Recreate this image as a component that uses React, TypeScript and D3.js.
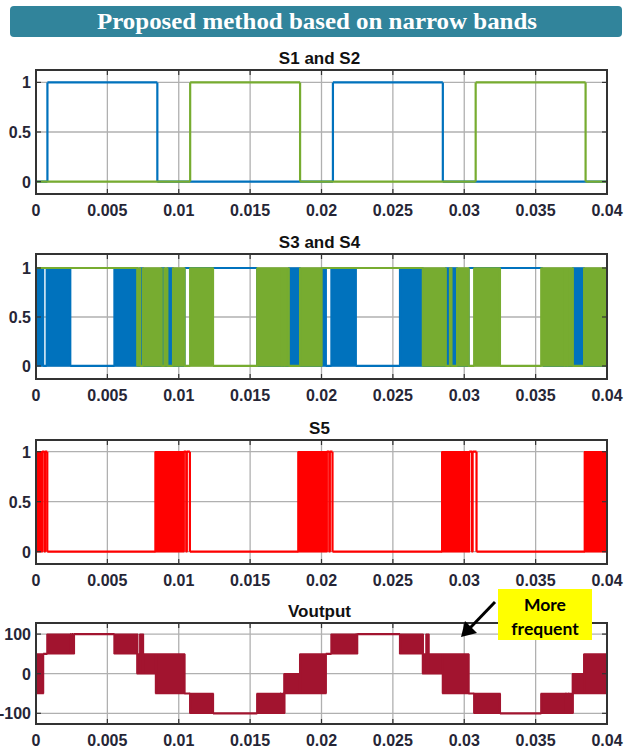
import React from "react";
import * as d3 from "d3";

const W = 634;
const H = 751;
const T_END = 0.04;

const xTicks = [0, 0.005, 0.01, 0.015, 0.02, 0.025, 0.03, 0.035, 0.04];
const xTickLabels = ["0", "0.005", "0.01", "0.015", "0.02", "0.025", "0.03", "0.035", "0.04"];
const switchTicks = [0, 0.5, 1];
const switchTickLabels = ["0", "0.5", "1"];
const voutTicks = [-100, 0, 100];
const voutTickLabels = ["-100", "0", "100"];

// each entry: [start time, low, high]; high > low = dense switching band
const s1 = [[0, 0, 0], [0.0008, 1, 1], [0.0085, 0, 0], [0.0208, 1, 1], [0.0285, 0, 0]];
const s2 = [[0, 0, 0], [0.0108, 1, 1], [0.0185, 0, 0], [0.0308, 1, 1], [0.0385, 0, 0]];

const s3 = [
  [0, 0, 1], [0.0005, 0, 0], [0.00075, 0, 1], [0.0024, 0, 0], [0.0055, 0, 1], [0.0071, 0, 0],
  [0.0073, 0, 1], [0.0075, 0, 0], [0.0088, 0, 1], [0.009, 0, 0], [0.0092, 0, 1], [0.0096, 0, 0],
  [0.0104, 1, 1], [0.0155, 0, 0], [0.0177, 0, 1], [0.0185, 0, 0],
  [0.02, 0, 1], [0.0203, 0, 0], [0.0207, 0, 1], [0.0224, 0, 0], [0.0255, 0, 1], [0.0271, 0, 0],
  [0.0287, 0, 1], [0.029, 0, 0], [0.0291, 0, 1], [0.0295, 0, 0],
  [0.0303, 1, 1], [0.0355, 0, 0], [0.0376, 0, 1], [0.0384, 0, 0],
];
const s4 = [
  [0, 1, 1], [0.0071, 0, 1], [0.0073, 0, 0], [0.0075, 0, 1], [0.0088, 0, 0], [0.009, 0, 1],
  [0.0092, 0, 0], [0.0096, 0, 1], [0.0104, 0, 0], [0.0108, 0, 1], [0.0124, 0, 0],
  [0.0155, 0, 1], [0.0172, 0, 0], [0.01725, 0, 1], [0.0174, 0, 0], [0.01745, 0, 1],
  [0.0177, 0, 0], [0.0185, 0, 1],
  [0.02, 1, 1], [0.0271, 0, 1], [0.0287, 0, 0], [0.029, 0, 1], [0.0291, 0, 0], [0.0295, 0, 1],
  [0.0303, 0, 0], [0.0307, 0, 1], [0.0325, 0, 0], [0.0354, 0, 1], [0.0370, 0, 0], [0.03705, 0, 1],
  [0.0372, 0, 0], [0.03725, 0, 1], [0.0376, 0, 0], [0.0384, 0, 1],
];

const s5 = [
  [0, 0, 1], [0.00043, 1, 1], [0.0006, 0, 1], [0.00063, 1, 1], [0.00079, 0, 0],
  [0.00837, 0, 1], [0.01035, 1, 1], [0.01053, 0, 1], [0.01056, 1, 1], [0.01078, 0, 0],
  [0.01838, 0, 1], [0.02037, 1, 1], [0.02055, 0, 1], [0.02058, 1, 1], [0.02077, 0, 0],
  [0.02845, 0, 1], [0.03035, 1, 1], [0.03055, 0, 1], [0.03058, 1, 1], [0.03086, 0, 0],
  [0.03844, 0, 1],
];

const vout = [
  [0, -50, 50], [0.0005, 50, 50], [0.0008, 50, 100], [0.0024, 100, 100], [0.00248, 50, 100],
  [0.00252, 100, 100], [0.00262, 50, 100], [0.00266, 100, 100],
  [0.0055, 50, 100], [0.0071, 0, 50], [0.0073, 0, 100], [0.0075, 0, 50], [0.0084, -50, 50],
  [0.0104, -50, -50], [0.0108, -100, -50], [0.0124, -100, -100], [0.0155, -100, -50],
  [0.0171, -50, -50], [0.01715, -100, -50], [0.0173, -50, -50], [0.01735, -100, -50],
  [0.0174, -50, 0], [0.0185, -50, 50],
  [0.0203, 50, 50], [0.0207, 50, 100], [0.0224, 100, 100], [0.02245, 50, 100], [0.0225, 100, 100],
  [0.0255, 50, 100], [0.0271, 0, 50], [0.02735, 0, 100], [0.0275, 0, 50], [0.0285, -50, 50],
  [0.0303, -50, -50], [0.0307, -100, -50], [0.0325, -100, -100], [0.0354, -100, -50],
  [0.0371, -50, -50], [0.03715, -100, -50], [0.0373, -50, -50], [0.03735, -100, -50],
  [0.0376, -50, 0], [0.0384, -50, 50],
];

const BLUE = "#0072BD";
const GREEN = "#77AC30";
const RED = "#FF0000";
const WINE = "#A2142F";

function segPaths(segs, x, y) {
  let band = "";
  let line = "";
  segs.forEach((s, i) => {
    const [t0, lo, hi] = s;
    const t1 = i < segs.length - 1 ? segs[i + 1][0] : T_END;
    const x0 = x(t0), x1 = x(t1);
    if (hi > lo) band += `M${x0},${y(hi)}H${x1}V${y(lo)}H${x0}Z`;
    else line += `M${x0},${y(lo)}H${x1}`;
    if (i > 0) {
      const p = segs[i - 1];
      line += `M${x0},${y(Math.min(p[1], lo))}V${y(Math.max(p[2], hi))}`;
    }
  });
  return { band, line };
}

function Panel({ id, title, top, bottom, yDomain, yTicks, yLabels, series }) {
  const left = 36, right = 607;
  const x = d3.scaleLinear().domain([0, T_END]).range([left, right]);
  const y = d3.scaleLinear().domain(yDomain).range([bottom, top]);
  const ink = "#333";
  return (
    <g>
      <defs>
        <clipPath id={id}>
          <rect x={left} y={top} width={right - left} height={bottom - top} />
        </clipPath>
      </defs>
      <rect x={left} y={top} width={right - left} height={bottom - top} fill="#fff" />
      {xTicks.map(t => (
        <line key={"gx" + t} x1={x(t)} x2={x(t)} y1={top} y2={bottom} stroke="#b0b0b0" strokeWidth={1.3} />
      ))}
      {yTicks.map(v => (
        <line key={"gy" + v} x1={left} x2={right} y1={y(v)} y2={y(v)} stroke="#b0b0b0" strokeWidth={1.3} />
      ))}
      <g clipPath={`url(#${id})`}>
        {series.map((s, i) => {
          const p = segPaths(s.segs, x, y);
          return (
            <g key={i}>
              <path d={p.band} fill={s.color} stroke={s.color} strokeWidth={1.4} />
              <path d={p.line} fill="none" stroke={s.color} strokeWidth={2.2} />
            </g>
          );
        })}
      </g>
      {xTicks.map(t => (
        <g key={"tx" + t}>
          <line x1={x(t)} x2={x(t)} y1={bottom} y2={bottom - 5} stroke={ink} strokeWidth={1.2} />
          <line x1={x(t)} x2={x(t)} y1={top} y2={top + 5} stroke={ink} strokeWidth={1.2} />
        </g>
      ))}
      {yTicks.map(v => (
        <g key={"ty" + v}>
          <line x1={left} x2={left + 5} y1={y(v)} y2={y(v)} stroke={ink} strokeWidth={1.2} />
          <line x1={right} x2={right - 5} y1={y(v)} y2={y(v)} stroke={ink} strokeWidth={1.2} />
        </g>
      ))}
      <rect x={left} y={top} width={right - left} height={bottom - top} fill="none" stroke={ink} strokeWidth={2} />
      {xTicks.map((t, i) => (
        <text key={"lx" + t} x={x(t)} y={bottom + 22} textAnchor="middle" fontSize={16} fontWeight="bold"
          fill="#262636" fontFamily="Liberation Sans, Arial, sans-serif">{xTickLabels[i]}</text>
      ))}
      {yTicks.map((v, i) => (
        <text key={"ly" + v} x={left - 5} y={y(v) + 6} textAnchor="end" fontSize={16} fontWeight="bold"
          fill="#262636" fontFamily="Liberation Sans, Arial, sans-serif">{yLabels[i]}</text>
      ))}
      <text x={(left + right) / 2 - 2} y={top - 6} textAnchor="middle" fontSize={17} fontWeight="bold"
        fill="#111" fontFamily="Liberation Sans, Arial, sans-serif">{title}</text>
    </g>
  );
}

export default function App() {
  return (
    <svg width={W} height={H} style={{ position: "absolute", left: 0, top: 0, background: "#fff" }}>
      <rect x={10} y={6} width={612} height={31} rx={4} fill="#31849B" />
      <text x={317} y={29} textAnchor="middle" fontSize={24} fontWeight="bold" fill="#fff"
        fontFamily="Liberation Serif, Times New Roman, serif" textLength={440} lengthAdjust="spacingAndGlyphs">
        Proposed method based on narrow bands
      </text>

      <Panel id="c1" title="S1 and S2" top={70} bottom={194} yDomain={[-0.125, 1.125]}
        yTicks={switchTicks} yLabels={switchTickLabels}
        series={[{ segs: s1, color: BLUE }, { segs: s2, color: GREEN }]} />
      <Panel id="c2" title="S3 and S4" top={254} bottom={379} yDomain={[-0.133, 1.143]}
        yTicks={switchTicks} yLabels={switchTickLabels}
        series={[{ segs: s3, color: BLUE }, { segs: s4, color: GREEN }]} />
      <Panel id="c3" title="S5" top={440} bottom={564} yDomain={[-0.123, 1.117]}
        yTicks={switchTicks} yLabels={switchTickLabels}
        series={[{ segs: s5, color: RED }]} />
      <Panel id="c4" title="Voutput" top={623} bottom={724} yDomain={[-127, 128]}
        yTicks={voutTicks} yLabels={voutTickLabels}
        series={[{ segs: vout, color: WINE }]} />

      <rect x={498} y={589} width={94} height={51} fill="#FFFF00" />
      <text x={545} y={611} textAnchor="middle" fontSize={17.5} fontWeight="bold" fill="#000"
        fontFamily="Lato, Open Sans, sans-serif">More</text>
      <text x={545} y={635} textAnchor="middle" fontSize={17.5} fontWeight="bold" fill="#000"
        fontFamily="Lato, Open Sans, sans-serif">frequent</text>
      <line x1={495} y1={602} x2={470} y2={628} stroke="#000" strokeWidth={3} />
      <polygon points="461,637 465,621 477,633" fill="#000" />
    </svg>
  );
}
